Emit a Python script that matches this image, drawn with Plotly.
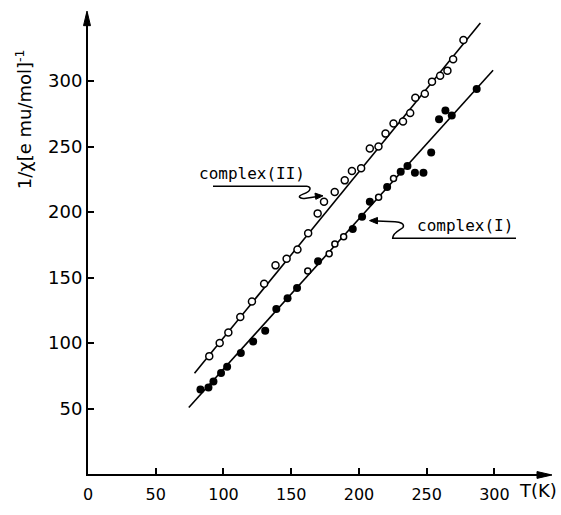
import plotly.graph_objects as go

# Inverse molar susceptibility 1/chi versus temperature T (K)

# complex(II) - open circles
t_complex_II = [89.5, 97.2, 103.6, 112.4, 121.0, 130.0, 138.4, 146.6, 154.6, 162.5,
                169.5, 174.2, 182.1, 189.5, 194.8, 201.6, 208.0, 214.4, 219.6, 225.5,
                232.5, 237.8, 241.6, 248.6, 253.9, 259.9, 265.3, 269.5, 277.1]
inv_chi_II = [90.0, 100.0, 108.0, 119.8, 131.7, 145.2, 159.3, 164.4, 171.4, 183.8,
              199.0, 207.8, 215.3, 224.2, 231.4, 233.4, 248.5, 250.0, 259.9, 267.6,
              269.2, 275.7, 287.3, 290.4, 299.6, 304.0, 308.0, 316.7, 331.3]

# complex(I) - solid dots
t_complex_I_solid = [83.0, 88.9, 92.6, 98.2, 102.7, 112.8, 121.9, 130.8, 139.0, 147.3,
                     154.3, 169.8, 195.4, 202.3, 208.0, 220.8, 230.8, 235.8, 241.3, 247.6,
                     253.3, 259.1, 263.8, 268.5, 286.9]
inv_chi_I_solid = [64.5, 66.0, 70.6, 77.2, 81.8, 92.4, 101.2, 109.3, 126.0, 134.2,
                   142.1, 162.4, 187.0, 196.5, 207.8, 219.2, 230.8, 235.2, 230.1, 230.1,
                   245.5, 270.8, 277.6, 273.8, 294.0]
# complex(I) - points printed as small rings
t_complex_I_ring = [162.2, 178.0, 182.2, 188.7, 214.5, 225.5]
inv_chi_I_ring = [155.0, 168.2, 175.6, 181.2, 211.3, 225.7]

# Curie-Weiss straight lines (end points)
fit_II_t = [78.6, 289.6]
fit_II_v = [76.9, 344.3]
fit_I_t = [74.4, 299.0]
fit_I_v = [50.8, 308.3]

x_ticks = [0, 50, 100, 150, 200, 250, 300]
y_ticks = [50, 100, 150, 200, 250, 300]

INK = "black"
LABEL_FONT = dict(family="DejaVu Sans Mono", size=16, color=INK)

# plot-area geometry (pixels)
L, R, T, B = 88, 11, 13, 29
W, H = 561, 515
PW, PH = W - L - R, H - T - B


def px(x):
    return (x - L) / PW


def py(y):
    return (H - B - y) / PH


def pt(x, y):
    return f"{px(x):.5f},{py(y):.5f}"


def polyline(points, close=False):
    """Straight-segment path (paper units) through pixel points."""
    d = "M " + pt(*points[0]) + "".join(" L " + pt(*p) for p in points[1:])
    return d + (" Z" if close else "")


def curl(start, segments, end=None):
    """Path made of cubic Bezier segments (each: c1, c2, p) from a start point."""
    d = "M " + pt(*start)
    for kind, *pts in segments:
        if kind == "L":
            d += " L " + pt(*pts[0])
        else:
            d += " C " + " ".join(pt(*p) for p in pts)
    return d


fig = go.Figure()

fig.add_trace(go.Scatter(x=fit_II_t, y=fit_II_v, mode="lines",
                         line=dict(color=INK, width=1.6), showlegend=False))
fig.add_trace(go.Scatter(x=fit_I_t, y=fit_I_v, mode="lines",
                         line=dict(color=INK, width=1.6), showlegend=False))

fig.add_trace(go.Scatter(x=t_complex_II, y=inv_chi_II, mode="markers",
                         marker=dict(symbol="circle", size=7, color="white",
                                     line=dict(color=INK, width=1.5)),
                         showlegend=False))
fig.add_trace(go.Scatter(x=t_complex_I_solid, y=inv_chi_I_solid, mode="markers",
                         marker=dict(symbol="circle", size=8, color=INK),
                         showlegend=False))
fig.add_trace(go.Scatter(x=t_complex_I_ring, y=inv_chi_I_ring, mode="markers",
                         marker=dict(symbol="circle", size=6, color="white",
                                     line=dict(color=INK, width=1.5)),
                         showlegend=False))

line_style = dict(color=INK, width=1.5)
head_style = dict(color=INK, width=1)
shapes = [
    # arrowhead on top of the 1/chi axis
    dict(type="path", xref="paper", yref="paper", fillcolor=INK, line=head_style,
         path=polyline([(87, 11), (83.5, 26), (90.5, 26)], close=True)),
    # arrowhead at the end of the T axis
    dict(type="path", xref="paper", yref="paper", fillcolor=INK, line=head_style,
         path=polyline([(552, 487), (537, 483.5), (537, 490.5)], close=True)),
    # underline + curl leading to complex(II)
    dict(type="path", xref="paper", yref="paper", line=line_style,
         path=curl((213, 190.7), [("L", (306.7, 190.7)),
                                  ("C", (312, 191.5), (311, 196), (303, 198.8)),
                                  ("C", (297, 201), (299, 204), (306, 203)),
                                  ("L", (316, 201.5))])),
    dict(type="path", xref="paper", yref="paper", fillcolor=INK, line=head_style,
         path=polyline([(323, 200.6), (315, 197.8), (315.8, 204.2)], close=True)),
    # underline + curl leading to complex(I)
    dict(type="path", xref="paper", yref="paper", line=line_style,
         path=curl((516, 244), [("L", (392.7, 244)),
                                ("C", (393, 238), (400, 236), (403, 233)),
                                ("C", (405, 229), (400, 227.5), (395, 227.2)),
                                ("L", (377, 226.4))])),
    dict(type="path", xref="paper", yref="paper", fillcolor=INK, line=head_style,
         path=polyline([(369.5, 226), (377.5, 222.8), (377.5, 229.4)], close=True)),
]

annotations = [
    # axis titles
    dict(x=px(24), y=py(122), xref="paper", yref="paper", showarrow=False,
         textangle=-90, xanchor="center", yanchor="middle",
         text="1/χ[e mu/mol]<sup>-1</sup>",
         font=dict(family="DejaVu Sans", size=18, color=INK)),
    dict(x=px(559), y=py(503), xref="paper", yref="paper", showarrow=False,
         xanchor="right", yanchor="middle",
         text="T(K)", font=dict(family="DejaVu Sans", size=18, color=INK)),
    # series labels
    dict(x=121.2, y=229.2, xref="x", yref="y", showarrow=False,
         text="complex(II)", font=LABEL_FONT),
    dict(x=277.9, y=189.5, xref="x", yref="y", showarrow=False,
         text="complex(I)", font=LABEL_FONT),
]

fig.update_layout(
    width=W, height=H,
    margin=dict(l=L, r=R, t=T, b=B),
    paper_bgcolor="white", plot_bgcolor="white",
    annotations=annotations, shapes=shapes,
    xaxis=dict(range=[0, 341], tickvals=x_ticks, ticktext=[str(v) for v in x_ticks],
               showline=True, linecolor=INK, linewidth=2, ticks="inside", ticklen=6,
               tickwidth=1.5, tickcolor=INK, showgrid=False, zeroline=False,
               tickfont=dict(family="DejaVu Sans", size=16, color=INK),
               ticklabelstandoff=5),
    yaxis=dict(range=[0, 352], tickvals=y_ticks, ticktext=[str(v) for v in y_ticks],
               showline=True, linecolor=INK, linewidth=2, ticks="inside", ticklen=6,
               tickwidth=1.5, tickcolor=INK, showgrid=False, zeroline=False,
               tickfont=dict(family="DejaVu Sans", size=18, color=INK),
               ticklabelstandoff=0),
)

fig.write_html("out.html")
